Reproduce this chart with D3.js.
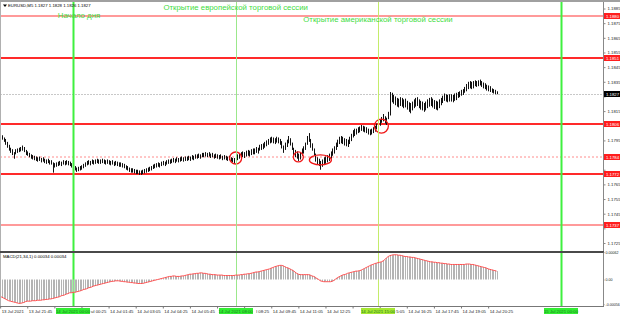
<!DOCTYPE html>
<html><head><meta charset="utf-8">
<script src="https://cdn.jsdelivr.net/npm/d3@7"></script>
<style>html,body{margin:0;padding:0;background:#fff;overflow:hidden}svg{display:block;font-family:"Liberation Sans",Arial,sans-serif}</style>
</head><body><svg id="c" width="620" height="316"></svg>
<script>
// ---------------- data ----------------
const symbolTitle = "EURUSD,M5  1.1827 1.1828 1.1826 1.1827";
const macdTitle = "MACD(21,34,1) 0.00034 0.00034";
const firstBarTime = "2021-07-13 20:25";
const barMinutes = 5;
const lastPrice = 1.1827;

const highs = [1.1799,1.17985,1.1797,1.1796,1.1794,1.1792,1.1790,1.1789,1.1787,1.1789,
1.17895,1.1790,1.17905,1.17915,1.17905,1.17885,1.17875,1.17865,1.17855,1.1785,
1.17845,1.1784,1.17835,1.1784,1.1783,1.17835,1.17825,1.1782,1.17825,1.17815,
1.17815,1.1780,1.17795,1.1780,1.17805,1.1781,1.17805,1.17815,1.1781,1.17815,
1.1781,1.17805,1.17795,1.1779,1.17775,1.17765,1.1777,1.17775,1.1778,1.1779,
1.1780,1.1781,1.17815,1.1781,1.1782,1.17815,1.1782,1.17825,1.1782,1.1782,
1.17825,1.1782,1.17815,1.1782,1.17815,1.1781,1.17815,1.17805,1.1781,1.17805,
1.1780,1.1780,1.17795,1.1779,1.1778,1.17775,1.17765,1.1776,1.1776,1.17755,
1.1775,1.1775,1.17745,1.17745,1.1775,1.17755,1.1776,1.17765,1.1777,1.17775,
1.17785,1.1779,1.17795,1.1780,1.17795,1.17805,1.1781,1.17805,1.17815,1.1782,
1.1782,1.17825,1.1783,1.17825,1.17835,1.1783,1.17835,1.1784,1.17835,1.1784,
1.1784,1.17845,1.1784,1.1785,1.17845,1.17855,1.17855,1.1786,1.17855,1.17865,
1.17865,1.1787,1.17865,1.1787,1.1786,1.17865,1.17855,1.1786,1.17855,1.1785,
1.17855,1.17845,1.1785,1.17845,1.1784,1.17845,1.17835,1.1783,1.1783,1.17845,
1.17855,1.17865,1.1787,1.17875,1.1787,1.1788,1.17885,1.1788,1.1789,1.17895,
1.17895,1.17905,1.1790,1.1792,1.17925,1.1793,1.1794,1.1795,1.1796,1.1797,
1.17975,1.1797,1.17965,1.17975,1.1797,1.1796,1.17945,1.17915,1.17935,1.17955,
1.1798,1.17965,1.17935,1.1790,1.17885,1.17875,1.1786,1.1787,1.17895,1.1791,
1.17935,1.1798,1.1800,1.1796,1.1793,1.17895,1.1786,1.17835,1.17825,1.1781,
1.1782,1.17835,1.1784,1.1785,1.1786,1.17875,1.17895,1.1791,1.17935,1.17955,
1.17975,1.1798,1.17975,1.17965,1.1796,1.17955,1.17975,1.17995,1.1802,1.1803,
1.1803,1.1804,1.18045,1.18055,1.1805,1.18045,1.1804,1.1803,1.18025,1.1803,
1.1804,1.1805,1.18065,1.18075,1.1809,1.1811,1.1813,1.18115,1.18105,1.18145,
1.1828,1.18275,1.1826,1.1825,1.1824,1.18235,1.18245,1.1824,1.1823,1.18235,
1.1822,1.1821,1.18205,1.18215,1.1823,1.1824,1.18245,1.1823,1.1822,1.18215,
1.18205,1.18215,1.1823,1.1824,1.18245,1.18235,1.18225,1.1822,1.18215,1.1823,
1.1824,1.18255,1.1827,1.18265,1.1826,1.18265,1.18265,1.1826,1.1827,1.18275,
1.1828,1.18285,1.18295,1.1830,1.18315,1.18335,1.1835,1.18355,1.1835,1.18355,
1.1836,1.18355,1.1836,1.18365,1.18355,1.18345,1.1834,1.1833,1.18325,1.1832,
1.18305,1.1830,1.18295,1.18285];

const lows = [1.1796,1.17955,1.1794,1.1792,1.1790,1.1788,1.17865,1.1785,1.17825,1.17855,
1.17865,1.1787,1.17875,1.1788,1.1787,1.1785,1.17845,1.17835,1.17825,1.1782,
1.17815,1.1781,1.17805,1.1781,1.1780,1.17805,1.17795,1.1779,1.17795,1.17785,
1.17785,1.1773,1.17765,1.1777,1.17775,1.1778,1.17775,1.17785,1.1778,1.17785,
1.1778,1.17775,1.17765,1.17755,1.17745,1.17735,1.1774,1.17745,1.1775,1.1776,
1.1777,1.1778,1.17785,1.1778,1.1779,1.17785,1.1779,1.17795,1.1779,1.1779,
1.17795,1.1779,1.17785,1.1779,1.17785,1.1778,1.17785,1.17775,1.1778,1.17775,
1.1777,1.1777,1.17765,1.1776,1.1775,1.17745,1.17735,1.1773,1.1773,1.17725,
1.1772,1.1772,1.17715,1.17715,1.1772,1.17725,1.1773,1.17735,1.1774,1.17745,
1.17755,1.1776,1.17765,1.1777,1.17765,1.17775,1.1778,1.17775,1.17785,1.1779,
1.1779,1.17795,1.1780,1.17795,1.17805,1.1780,1.17805,1.1781,1.17805,1.1781,
1.1781,1.17815,1.1781,1.1782,1.17815,1.17825,1.17825,1.1783,1.17825,1.17835,
1.17835,1.1784,1.17835,1.1784,1.1783,1.17835,1.17825,1.1783,1.17825,1.1782,
1.17825,1.17815,1.1782,1.17815,1.1781,1.17815,1.17805,1.1780,1.1779,1.1781,
1.17815,1.17825,1.1783,1.17835,1.1783,1.1784,1.17845,1.1784,1.1785,1.17855,
1.17855,1.17865,1.1786,1.1788,1.17885,1.1789,1.1790,1.1791,1.1792,1.1793,
1.17935,1.1793,1.17925,1.17935,1.1793,1.1792,1.17895,1.17865,1.17885,1.17905,
1.1793,1.17915,1.17885,1.1785,1.17835,1.17825,1.1781,1.1782,1.17845,1.1786,
1.17885,1.1792,1.1794,1.1790,1.1788,1.17845,1.17805,1.17785,1.17775,1.1775,
1.1777,1.17785,1.1779,1.1780,1.1781,1.17825,1.17845,1.1786,1.17885,1.17905,
1.17925,1.1793,1.17925,1.17915,1.1791,1.17905,1.17925,1.17945,1.1797,1.1798,
1.1799,1.1800,1.18005,1.18015,1.1801,1.18005,1.1800,1.1799,1.17985,1.1799,
1.1800,1.1801,1.18025,1.18035,1.1805,1.1807,1.1808,1.18065,1.18055,1.18095,
1.1812,1.1821,1.1820,1.1819,1.1818,1.18175,1.18185,1.1818,1.1817,1.18175,
1.1816,1.18145,1.18135,1.18155,1.1817,1.1818,1.18185,1.1817,1.1816,1.18155,
1.18145,1.18155,1.1817,1.1818,1.18185,1.18175,1.18165,1.1816,1.18155,1.1817,
1.1819,1.18205,1.1822,1.18215,1.1821,1.18215,1.18215,1.1821,1.1822,1.18225,
1.1824,1.18245,1.18255,1.1826,1.18275,1.18285,1.1830,1.18305,1.1830,1.18305,
1.1832,1.18315,1.1832,1.18325,1.18315,1.18305,1.1830,1.1829,1.18285,1.1828,
1.18275,1.1827,1.18265,1.18265];

const macd = [-0.00038,-0.00040,-0.00042,-0.00044,-0.00046,-0.00048,-0.00049,-0.00050,-0.00051,-0.00052,
-0.00053,-0.00054,-0.00054,-0.00053,-0.00052,-0.00050,-0.00049,-0.00049,-0.00049,-0.00048,
-0.00048,-0.00048,-0.00047,-0.00047,-0.00047,-0.00046,-0.00046,-0.00045,-0.00045,-0.00044,
-0.00044,-0.00043,-0.00042,-0.00041,-0.00040,-0.00039,-0.00037,-0.00036,-0.00035,-0.00033,
-0.00032,-0.00030,-0.00030,-0.00029,-0.00029,-0.00028,-0.00027,-0.00026,-0.00025,-0.00023,
-0.00022,-0.00021,-0.00019,-0.00018,-0.00017,-0.00015,-0.00014,-0.00013,-0.00012,-0.00011,
-0.00010,-0.00009,-0.00008,-0.00007,-0.00006,-0.00005,-0.00004,-0.00004,-0.00003,-0.00003,
-0.00003,-0.00004,-0.00004,-0.00005,-0.00005,-0.00006,-0.00006,-0.00007,-0.00007,-0.00008,
-0.00008,-0.00009,-0.00009,-0.00009,-0.00009,-0.00008,-0.00007,-0.00006,-0.00005,-0.00004,
-0.00003,-0.00002,-0.00001,0.00000,0.00001,0.00002,0.00003,0.00004,0.00005,0.00006,
0.00007,0.00007,0.00008,0.00008,0.00007,0.00007,0.00007,0.00008,0.00008,0.00009,
0.00010,0.00011,0.00012,0.00012,0.00013,0.00013,0.00014,0.00014,0.00015,0.00015,
0.00014,0.00014,0.00013,0.00012,0.00012,0.00011,0.00011,0.00011,0.00010,0.00010,
0.00010,0.00010,0.00009,0.00009,0.00009,0.00009,0.00009,0.00009,0.00009,0.00010,
0.00010,0.00010,0.00011,0.00011,0.00012,0.00012,0.00013,0.00013,0.00014,0.00015,
0.00016,0.00017,0.00017,0.00018,0.00019,0.00020,0.00021,0.00022,0.00023,0.00024,
0.00026,0.00027,0.00029,0.00030,0.00031,0.00032,0.00032,0.00031,0.00029,0.00027,
0.00026,0.00024,0.00022,0.00020,0.00017,0.00014,0.00012,0.00011,0.00011,0.00011,
0.00011,0.00011,0.00011,0.00010,0.00008,0.00007,0.00005,0.00002,0.00000,-0.00003,
-0.00004,-0.00005,-0.00005,-0.00005,-0.00005,-0.00005,-0.00004,-0.00002,0.00001,0.00004,
0.00006,0.00008,0.00010,0.00011,0.00012,0.00014,0.00015,0.00016,0.00017,0.00018,
0.00019,0.00019,0.00020,0.00021,0.00023,0.00025,0.00027,0.00029,0.00031,0.00033,
0.00034,0.00036,0.00037,0.00038,0.00039,0.00040,0.00042,0.00045,0.00049,0.00052,
0.00054,0.00055,0.00056,0.00056,0.00056,0.00055,0.00055,0.00054,0.00053,0.00052,
0.00052,0.00051,0.00051,0.00050,0.00050,0.00049,0.00048,0.00047,0.00046,0.00045,
0.00044,0.00043,0.00042,0.00041,0.00040,0.00040,0.00039,0.00039,0.00038,0.00038,
0.00037,0.00037,0.00036,0.00036,0.00035,0.00035,0.00034,0.00034,0.00034,0.00034,
0.00034,0.00034,0.00034,0.00034,0.00034,0.00035,0.00035,0.00035,0.00034,0.00034,
0.00033,0.00032,0.00031,0.00030,0.00029,0.00028,0.00027,0.00026,0.00024,0.00023,
0.00022,0.00021,0.00020,0.00019];

const priceTicks = [1.1885,1.1875,1.1865,1.1855,1.1845,1.1835,1.1825,1.1815,1.1805,1.1795,1.1785,1.1775,1.1765,1.1755,1.1745,1.1735,1.1725];
const macdTickValues = [0.00062, 0, -0.00056];
const macdTickLabels = ["0.00062", "0.00", "-0.00056"];

const levels = [1.1880, 1.1851, 1.1806, 1.1784, 1.1772, 1.1737];
const levelKinds = ["weak", "strong", "strong", "dotted", "strong", "weak"];

const timeTickTimes = ["2021-07-13 20:25","2021-07-13 21:45","2021-07-13 23:05","2021-07-14 00:25","2021-07-14 01:45","2021-07-14 03:05","2021-07-14 04:25","2021-07-14 05:45","2021-07-14 07:05","2021-07-14 08:25","2021-07-14 09:45","2021-07-14 11:05","2021-07-14 12:25","2021-07-14 13:45","2021-07-14 15:05","2021-07-14 16:25","2021-07-14 17:45","2021-07-14 19:05","2021-07-14 20:25"];
const timeTickLabels = ["13 Jul 2021","13 Jul 21:45","13 Jul 23:05","14 Jul 00:25","14 Jul 01:45","14 Jul 03:05","14 Jul 04:25","14 Jul 05:45","14 Jul 07:05","14 Jul 08:25","14 Jul 09:45","14 Jul 11:05","14 Jul 12:25","14 Jul 13:45","14 Jul 15:05","14 Jul 16:25","14 Jul 17:45","14 Jul 19:05","14 Jul 20:25"];

const vlineTimes = ["2021-07-14 00:00", "2021-07-14 08:00", "2021-07-14 15:00", "2021-07-15 00:00"];
const vlineKinds = ["day", "eu", "us", "day"];
const vlineLabels = ["14 Jul 2021 00:00", "14 Jul 2021 08:00", "14 Jul 2021 15:00", "15 Jul 2021 00:00"];
const vlineNotes = ["Начало дня", "Открытие европейской торговой сессии", "Открытие американской торговой сессии", ""];

const markTimes = ["2021-07-14 08:00", "2021-07-14 11:05", "2021-07-14 12:10", "2021-07-14 15:10"];
const markPrices = [1.1783, 1.17837, 1.17817, 1.18048];

// ---------------- drawing ----------------
const svg = d3.select("#c");
const parse = d3.timeParse("%Y-%m-%d %H:%M");
const t0 = parse(firstBarTime);
const times = highs.map((_, i) => d3.timeMinute.offset(t0, i * barMinutes));

const RIGHT = 603, MAIN_TOP = 3, MAIN_BOT = 251, SUB_TOP = 253, SUB_BOT = 306;
const x = d3.scaleTime().domain([parse("2021-07-14 00:00"), parse("2021-07-15 00:00")]).range([73, 561]);
const y = d3.scaleLinear().domain([1.1725, 1.1885]).range([243, 8.5]);
const ym = d3.scaleLinear().domain([-0.0006, 0.0006]).range([SUB_BOT, SUB_TOP]);
const px = v => Math.round(v) + 0.5;

svg.append("rect").attr("width", 620).attr("height", 316).attr("fill", "#fff");

const defs = svg.append("defs");
defs.append("clipPath").attr("id", "cm").append("rect").attr("x", 0).attr("y", MAIN_TOP).attr("width", RIGHT).attr("height", MAIN_BOT - MAIN_TOP);
defs.append("clipPath").attr("id", "cs").append("rect").attr("x", 0).attr("y", SUB_TOP).attr("width", RIGHT).attr("height", SUB_BOT - SUB_TOP);

const main = svg.append("g").attr("clip-path", "url(#cm)");

// horizontal levels
const lvlStyle = {
  weak: {stroke: "#ff9a9a", w: 2, dash: null},
  strong: {stroke: "#ff2a2a", w: 2, dash: null},
  dotted: {stroke: "#ff8c8c", w: 1, dash: "2,2"}
};
main.selectAll("line.lvl").data(levels).join("line").attr("class", "lvl")
  .attr("x1", 0).attr("x2", RIGHT)
  .attr("y1", d => Math.round(y(d))).attr("y2", d => Math.round(y(d)))
  .attr("stroke", (d, i) => lvlStyle[levelKinds[i]].stroke)
  .attr("stroke-width", (d, i) => lvlStyle[levelKinds[i]].w)
  .attr("stroke-dasharray", (d, i) => lvlStyle[levelKinds[i]].dash);

// last price line
main.append("line").attr("x1", 0).attr("x2", RIGHT)
  .attr("y1", px(y(lastPrice))).attr("y2", px(y(lastPrice)))
  .attr("stroke", "#c8c8c8").attr("stroke-dasharray", "2,1");

// vertical lines
const vStyle = {
  day: {stroke: "#3ff03f", w: 2, label: "#33ee33"},
  eu: {stroke: "#9be88b", w: 1, label: "#33ee33"},
  us: {stroke: "#c4ec6a", w: 1, label: "#a6e832"}
};
svg.selectAll("line.vl").data(vlineTimes).join("line").attr("class", "vl")
  .attr("x1", d => px(x(parse(d)))).attr("x2", d => px(x(parse(d))))
  .attr("y1", 2).attr("y2", SUB_BOT)
  .attr("stroke", (d, i) => vStyle[vlineKinds[i]].stroke)
  .attr("stroke-width", (d, i) => vStyle[vlineKinds[i]].w);

// bars
main.append("g").selectAll("line").data(highs).join("line")
  .attr("x1", (d, i) => px(x(times[i]))).attr("x2", (d, i) => px(x(times[i])))
  .attr("y1", d => y(d)).attr("y2", (d, i) => Math.max(y(lows[i]), y(d) + 1))
  .attr("stroke", "#111").attr("stroke-width", 1);

// red circles
main.selectAll("ellipse.mk").data(markTimes).join("ellipse").attr("class", "mk")
  .attr("cx", d => x(parse(d))).attr("cy", (d, i) => y(markPrices[i]))
  .attr("rx", (d, i) => [6, 5, 11, 7][i]).attr("ry", (d, i) => [6, 5, 5, 7][i])
  .attr("fill", "none").attr("stroke", "#f01818").attr("stroke-width", 1.3);

// green notes
const noteY = [18, 10, 21.5];
svg.selectAll("text.note").data(vlineNotes.filter(n => n)).join("text").attr("class", "note")
  .attr("x", (d, i) => x(parse(vlineTimes[i])) + (i === 0 ? 6 : 0))
  .attr("y", (d, i) => noteY[i])
  .attr("text-anchor", "middle").attr("font-size", 7.8).attr("fill", "#3fdc3f").text(d => d);

// MACD sub window
const sub = svg.append("g").attr("clip-path", "url(#cs)");
sub.append("g").selectAll("line").data(macd).join("line")
  .attr("x1", (d, i) => px(x(times[i]))).attr("x2", (d, i) => px(x(times[i])))
  .attr("y1", ym(0)).attr("y2", d => ym(d))
  .attr("stroke", "#b4b4b4").attr("stroke-width", 1);
sub.append("path").datum(macd)
  .attr("d", d3.line().x((d, i) => x(times[i])).y(d => ym(d)))
  .attr("fill", "none").attr("stroke", "#ff5050").attr("stroke-width", 1);

// frames
svg.append("rect").attr("x", 0).attr("y", 0).attr("width", 620).attr("height", 2).attr("fill", "#a0a0a0");
svg.append("line").attr("x1", 0.5).attr("x2", 0.5).attr("y1", 2).attr("y2", SUB_BOT).attr("stroke", "#b0b0b0");
svg.append("rect").attr("x", 0).attr("y", MAIN_BOT).attr("width", RIGHT + 1).attr("height", 2).attr("fill", "#4a4a4a");
svg.append("line").attr("x1", 0).attr("x2", RIGHT + 1).attr("y1", SUB_BOT + 0.5).attr("y2", SUB_BOT + 0.5).attr("stroke", "#777");

// price boxes on the right scale (level labels and last price)
const fs = 4.3;
const priceBoxes = levels.map((p, i) => ({p, fill: "#ff1e1e"})).concat([{p: lastPrice, fill: "#000"}]);

// right price axis; grid labels hidden where a price box paints over them
const ay = svg.append("g").attr("transform", `translate(${RIGHT + 0.5},0)`)
  .call(d3.axisRight(y).tickValues(priceTicks).tickFormat(d3.format(".4f")).tickSize(2).tickPadding(2));
ay.select(".domain").attr("d", `M0,2V${MAIN_BOT}`).attr("stroke", "#888");
ay.selectAll("text").attr("font-size", fs).attr("fill", "#222").attr("font-family", "Liberation Sans, Arial");
ay.selectAll("line").attr("stroke", "#888");
ay.selectAll(".tick").filter(d => priceBoxes.some(b => Math.abs(y(b.p) - y(d)) < 5.5)).select("text").remove();

const asub = svg.append("g").attr("transform", `translate(${RIGHT + 0.5},0)`)
  .call(d3.axisRight(ym).tickValues(macdTickValues).tickFormat((d, i) => macdTickLabels[i]).tickSize(1).tickPadding(1));
asub.select(".domain").attr("d", `M0,${SUB_TOP}V${SUB_BOT}`).attr("stroke", "#888");
asub.selectAll("text").attr("font-size", 3.6).attr("fill", "#222").attr("font-family", "Liberation Sans, Arial");
asub.selectAll("line").attr("stroke", "#888");

const lbl = svg.append("g");
priceBoxes.forEach(b => {
  const yy = Math.round(y(b.p));
  lbl.append("rect").attr("x", RIGHT + 1).attr("y", yy - 3).attr("width", 17).attr("height", 6).attr("fill", b.fill);
  lbl.append("text").attr("x", RIGHT + 3).attr("y", yy).attr("dy", "0.35em").attr("font-size", fs).attr("fill", "#fff").text(d3.format(".4f")(b.p));
});

// vertical line time-label boxes (computed first so the time axis can avoid them)
const vBoxes = vlineTimes.map((t, i) => {
  const cx = x(parse(t));
  const w = 34;
  return {x0: Math.round(cx - w / 2), x1: Math.round(cx - w / 2) + w, cx, i};
});

// bottom time axis
const ax = svg.append("g").attr("transform", `translate(0,${SUB_BOT + 0.5})`)
  .call(d3.axisBottom(x).tickValues(timeTickTimes.map(parse)).tickFormat((d, i) => timeTickLabels[i]).tickSize(2).tickPadding(1));
ax.select(".domain").remove();
ax.selectAll("line").attr("stroke", "#777");
ax.selectAll("text").attr("text-anchor", "start").attr("x", 1).attr("font-size", fs).attr("fill", "#222").attr("font-family", "Liberation Sans, Arial");
// the vertical-line labels paint over the time labels: keep only the visible part
ax.selectAll(".tick").each(function(d) {
  const tx = x(d) + 1;
  const node = d3.select(this).select("text").node();
  const full = node.textContent;
  const wFull = node.getComputedTextLength();
  vBoxes.forEach(b => {
    if (tx < b.x1 && tx + wFull > b.x0) {
      if (tx >= b.x0 - 1) {
        let k = 0;
        while (k < full.length && tx + node.getSubStringLength(0, k) < b.x1 + 0.5) k++;
        let rest = full.slice(k);
        const lead = rest.length - rest.trimStart().length;
        k += lead; rest = rest.trimStart();
        if (!rest.length) { node.textContent = ""; return; }
        const off = node.getSubStringLength(0, k);
        node.textContent = rest;
        node.setAttribute("x", 1 + off);
      } else {
        node.textContent = "";
      }
    }
  });
});

vBoxes.forEach(b => {
  svg.append("rect").attr("x", b.x0).attr("y", 308).attr("width", b.x1 - b.x0).attr("height", 6)
    .attr("fill", vStyle[vlineKinds[b.i]].label);
  svg.append("text").attr("x", b.cx).attr("y", 311).attr("dy", "0.35em").attr("text-anchor", "middle")
    .attr("font-size", fs).attr("fill", "#1a7a1a").text(vlineLabels[b.i]);
});

// titles
svg.append("path").attr("d", "M3,4.5h4l-2,2.5z").attr("fill", "#000");
svg.append("text").attr("x", 8).attr("y", 7).attr("font-size", fs).attr("fill", "#000").text(symbolTitle);
svg.append("text").attr("x", 3).attr("y", 258).attr("font-size", fs).attr("fill", "#000").text(macdTitle);
</script></body></html>
